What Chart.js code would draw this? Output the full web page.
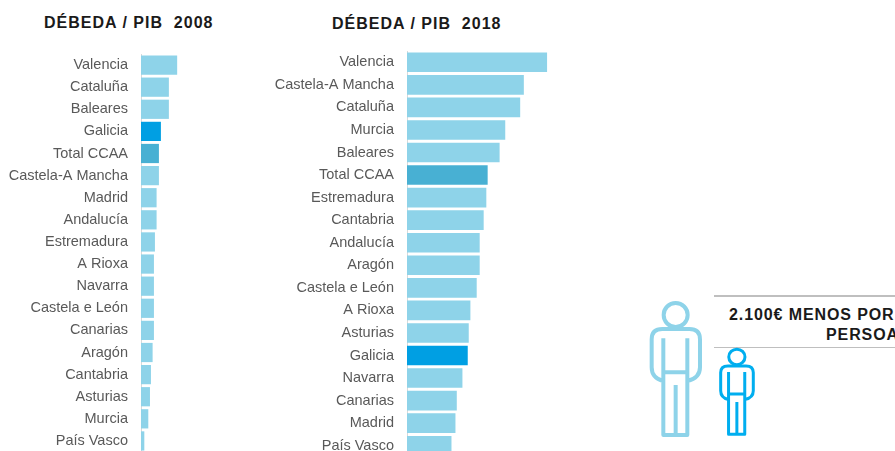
<!DOCTYPE html>
<html>
<head>
<meta charset="utf-8">
<script src="https://cdn.jsdelivr.net/npm/chart.js@4"></script>
<style>
  html, body { margin: 0; padding: 0; background: #fff; }
  body { width: 895px; height: 451px; overflow: hidden; position: relative; font-family: "Liberation Sans", Arial, sans-serif; }
  canvas { position: absolute; }
  .title { position: absolute; font-weight: bold; font-size: 16px; color: #1a1a1a; white-space: pre; letter-spacing: 1px; }
  .note { position: absolute; font-weight: bold; font-size: 16px; color: #1a1a1a; white-space: nowrap; letter-spacing: 0.9px; }
  .rule { position: absolute; left: 714px; width: 181px; background: #bfbfbf; }
  svg { position: absolute; left: 0; top: 0; }
</style>
</head>
<body>
<div class="title" style="left:44px;top:14px">DÉBEDA / PIB  2008</div>
<div class="title" style="left:332px;top:15px">DÉBEDA / PIB  2018</div>

<canvas id="chart2008" width="250" height="398" style="left:0;top:54px"></canvas>
<canvas id="chart2018" width="300" height="406" style="left:265px;top:51px"></canvas>

<div class="rule" style="top:295px;height:2px"></div>
<div class="note" style="left:729px;top:306px">2.100€ MENOS POR</div>
<div class="note" style="left:826px;top:326px">PERSOA</div>
<div class="rule" style="top:347px;height:1px"></div>

<svg width="895" height="451">
  <defs>
    <g id="person" fill="none" stroke-linejoin="round">
      <circle cx="137" cy="105" r="36" vector-effect="non-scaling-stroke"/>
      <path vector-effect="non-scaling-stroke" d="M100 175V465H172V175M100 277H172M137 315V465M100 303Q65 295 65 262V178Q65 147 97 147H178Q210 147 210 178V262Q210 295 172 303"/>
    </g>
  </defs>
  <use href="#person" stroke="#8ed3e9" stroke-width="4" transform="translate(630 280) scale(0.3333)"/>
  <use href="#person" stroke="#00aeef" stroke-width="3" transform="translate(706.05 334.35) scale(0.225 0.215)"/>
</svg>

<script>
const labels2008 = ['Valencia', 'Cataluña', 'Baleares', 'Galicia', 'Total CCAA', 'Castela-A Mancha', 'Madrid', 'Andalucía', 'Estremadura', 'A Rioxa', 'Navarra', 'Castela e León', 'Canarias', 'Aragón', 'Cantabria', 'Asturias', 'Murcia', 'País Vasco'];
const values2008 = [10.9, 8.4, 8.4, 6.0, 5.4, 5.4, 4.7, 4.7, 4.2, 3.9, 3.9, 3.9, 3.9, 3.5, 3.0, 2.7, 2.2, 1.0];

const labels2018 = ['Valencia', 'Castela-A Mancha', 'Cataluña', 'Murcia', 'Baleares', 'Total CCAA', 'Estremadura', 'Cantabria', 'Andalucía', 'Aragón', 'Castela e León', 'A Rioxa', 'Asturias', 'Galicia', 'Navarra', 'Canarias', 'Madrid', 'País Vasco'];
const values2018 = [42.2, 35.2, 34.1, 29.6, 27.9, 24.3, 23.9, 23.1, 21.9, 21.9, 21.0, 19.1, 18.6, 18.3, 16.7, 15.0, 14.6, 13.4];

function barColour(label) {
  if (label === 'Galicia') return '#009fe3';
  if (label === 'Total CCAA') return '#48b0d3';
  return '#8ed3e9';
}

function drawChart(id, labels, values, axisWidth, xMax) {
  return new Chart(document.getElementById(id), {
    type: 'bar',
    data: {
      labels: labels,
      datasets: [{
        data: values,
        backgroundColor: labels.map(barColour),
        barPercentage: 0.87,
        categoryPercentage: 1
      }]
    },
    options: {
      indexAxis: 'y',
      responsive: false,
      animation: false,
      layout: { padding: 0 },
      plugins: { legend: { display: false }, tooltip: { enabled: false } },
      scales: {
        x: { display: false, min: 0, max: xMax },
        y: {
          // tick padding also pushes the plot in from top and bottom, so drop that
          afterFit: function (scale) {
            scale.width = axisWidth;
            scale.paddingTop = 0;
            scale.paddingBottom = 0;
          },
          grid: { display: false, drawTicks: false },
          border: { display: true, color: '#d9d9d9', width: 1 },
          ticks: {
            autoSkip: false,
            padding: 13,
            color: '#595959',
            font: { family: '"Liberation Sans", Arial, sans-serif', size: 14.5 }
          }
        }
      }
    }
  });
}

drawChart('chart2008', labels2008, values2008, 141, 32.85);
drawChart('chart2018', labels2018, values2018, 142, 47.6);
</script>
</body>
</html>
